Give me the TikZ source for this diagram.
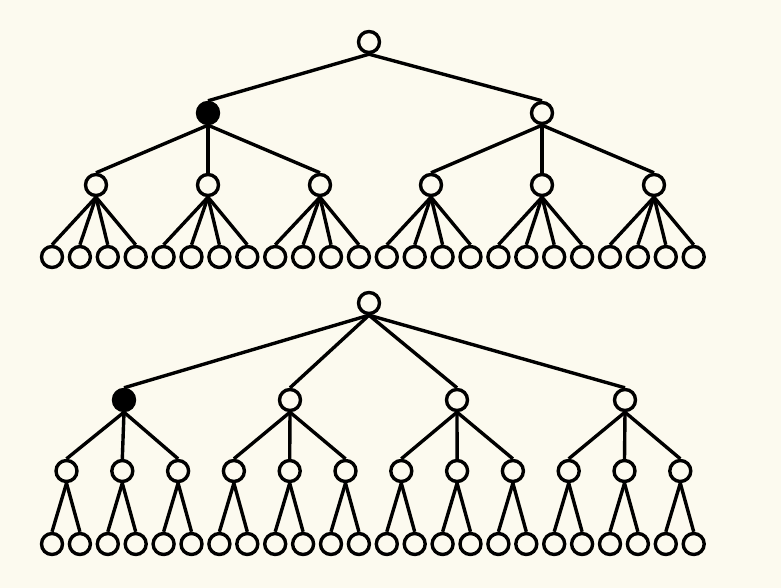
\documentclass[tikz,border=0pt]{standalone}
\usepackage{xcolor}
\definecolor{bg}{HTML}{FCFAEF}
\begin{document}
\begin{tikzpicture}[x=1pt,y=-1pt,
  tnode/.style={circle,draw=black,line width=3.4pt,fill=bg,minimum size=21pt,inner sep=0pt},
  fnode/.style={tnode,fill=black},
  edge/.style={line width=3.4pt,draw=black}]
\fill[bg] (0,0) rectangle (781,588);
\useasboundingbox (0,0) rectangle (781,588);
% ---------- top tree ----------
\node[tnode] (A) at (369,42) {};
\node[fnode] (A1) at (208,113) {};
\node[tnode] (A2) at (542,113) {};
\foreach \i/\x in {1/96,2/208,3/320,4/431,5/542,6/654}{
  \node[tnode] (B\i) at (\x,185) {};
}
\foreach \j in {1,...,24}{
  \node[tnode] (C\j) at ({52+(\j-1)*27.9},257) {};
}
% ---------- bottom tree ----------
\node[tnode] (R) at (369,303) {};
\foreach \i/\x in {1/124,2/290,3/457,4/625}{
  \ifnum\i=1 \node[fnode] (R\i) at (\x,400) {};
  \else \node[tnode] (R\i) at (\x,400) {};\fi
}
\foreach \k in {1,...,12}{
  \node[tnode] (S\k) at ({66.5+(\k-1)*55.8},471) {};
}
\foreach \j in {1,...,24}{
  \node[tnode] (T\j) at ({52+(\j-1)*27.9},544) {};
}
% edges top
\draw[edge] (A.south) -- (A1.north);
\draw[edge] (A.south) -- (A2.north);
\foreach \i in {1,2,3}{\draw[edge] (A1.south) -- (B\i.north);}
\foreach \i in {4,5,6}{\draw[edge] (A2.south) -- (B\i.north);}
\foreach \j in {1,...,24}{
  \pgfmathtruncatemacro{\p}{int((\j-1)/4)+1}
  \draw[edge] (B\p.south) -- (C\j.north);
}
% edges bottom
\foreach \i in {1,...,4}{\draw[edge] (R.south) -- (R\i.north);}
\foreach \k in {1,...,12}{
  \pgfmathtruncatemacro{\p}{int((\k-1)/3)+1}
  \draw[edge] (R\p.south) -- (S\k.north);
}
\foreach \j in {1,...,24}{
  \pgfmathtruncatemacro{\p}{int((\j-1)/2)+1}
  \draw[edge] (S\p.south) -- (T\j.north);
}
\end{tikzpicture}
\end{document}
